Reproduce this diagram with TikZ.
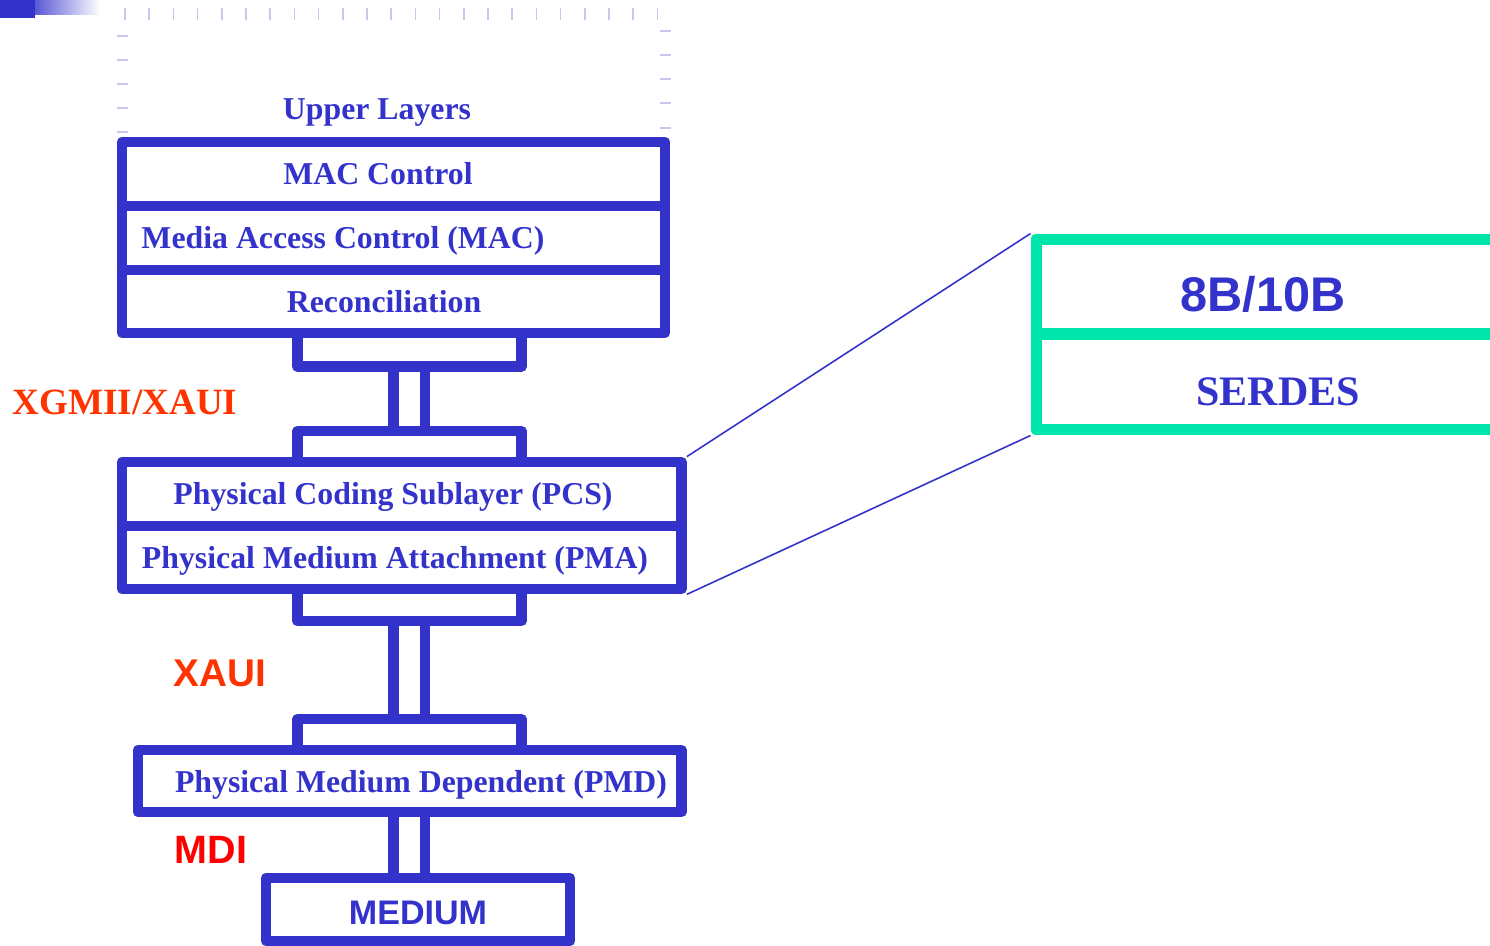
\documentclass[tikz,border=0pt]{standalone}
\usepackage{xcolor}
\usepackage{fontspec}
\setmainfont{Liberation Serif}
\setsansfont{Liberation Sans}
\usepackage{tikz}
\usetikzlibrary{positioning}

\definecolor{layerblue}{RGB}{51,51,204}
\definecolor{layergreen}{RGB}{0,229,170}
\definecolor{ifred}{RGB}{255,51,0}
\definecolor{mdired}{RGB}{255,0,0}
\definecolor{ticklav}{RGB}{200,200,236}

\begin{document}
\begin{tikzpicture}[
	x=0.02cm, y=-0.02cm,
	line join=round,
	font=\bfseries
]
\tikzset{
    layer/.style = {rectangle, draw=layerblue, line width=0.215cm, inner sep=0pt, minimum width=#1},
    layer/.default = 10.86cm,
    greenlayer/.style = {rectangle, draw=layergreen, line width=0.22cm, inner sep=0pt, minimum width=9.68cm},
    layertext/.style = {anchor=base, inner sep=0pt, text=layerblue, font=\bfseries\fontsize{18.1}{20}\selectfont},
    iftext/.style = {anchor=base, inner sep=0pt, text=ifred},
    tickline/.style = {draw=ticklav, line width=0.85pt},
    zoomline/.style = {draw=layerblue, line width=0.9pt}
}
\clip (0,0) rectangle (1490,946);

% title bar and dashed frame of the upper layers
\shade[left color=layerblue, right color=white] (20,0) rectangle (100,15);
\fill[layerblue] (0,0) rectangle (35,18);
\foreach \i in {0,...,22}
	\draw[tickline] ({125+24.2*\i},8) -- ++(0,12);
\foreach \y in {36,60,84,108,132}
	\draw[tickline] (117,\y) -- ++(11,0);
\foreach \y in {31,55,79,103,128}
	\draw[tickline] (660,\y) -- ++(11,0);
\node[layertext] (upper) at (377,119) {Upper Layers};

% MAC stack
\node[layer, minimum height=1.28cm] (ctrl) at (393.5,174) {};
\node[layer, minimum height=1.28cm] (mac) at (393.5,238) {};
\node[layer, minimum height=1.26cm] (rec) at (393.5,301.5) {};
\node[layertext] (ctrltxt) at (378,184) {MAC Control};
\node[layertext] (mactxt) at (343,248) {Media Access Control (MAC)};
\node[layertext] (rectxt) at (384,312) {Reconciliation};

% XGMII/XAUI
\node[layer=4.48cm, minimum height=0.67cm] (xgtop) at (409.5,349.75) {};
\node[layer=0.63cm, minimum height=1.29cm] (xgbar) at (409.25,398.75) {};
\node[layer=4.48cm, minimum height=0.62cm] (xgbot) at (409.5,446.5) {};
\node[iftext, font=\bfseries\fontsize{21.1}{23}\selectfont] (xgmii) at (125,414) {XGMII/XAUI};

% PCS / PMA
\node[layer=11.19cm, minimum height=1.28cm] (pcs) at (401.75,494) {};
\node[layer=11.19cm, minimum height=1.26cm] (pma) at (401.75,557.5) {};
\node[layertext] (pcstxt) at (393,504) {Physical Coding Sublayer (PCS)};
\node[layertext] (pmatxt) at (395,568) {Physical Medium Attachment (PMA)};

% XAUI
\node[layer=4.48cm, minimum height=0.64cm] (xatop) at (409.5,605) {};
\node[layer=0.63cm, minimum height=1.96cm] (xabar) at (409.25,670) {};
\node[layer=4.48cm, minimum height=0.62cm] (xabot) at (409.5,734.5) {};
\node[iftext, font=\sffamily\bfseries\fontsize{22}{24}\selectfont] (xaui) at (220,686) {XAUI};

% PMD, MDI and medium
\node[layer=10.87cm, minimum height=1.24cm] (pmd) at (409.75,781) {};
\node[layertext] (pmdtxt) at (421,792) {Physical Medium Dependent (PMD)};
\node[layer=0.63cm, minimum height=1.32cm] (mdibar) at (409.25,845) {};
\node[iftext, text=mdired, font=\sffamily\bfseries\fontsize{22.5}{25}\selectfont] (mdi) at (211,863) {MDI};
\node[layer=6.08cm, minimum height=1.26cm] (medium) at (418,909.5) {};
\node[layertext, font=\sffamily\bfseries\fontsize{19.4}{22}\selectfont] (mediumtxt) at (418,924) {MEDIUM};

% PCS/PMA detail
\node[greenlayer, minimum height=1.9cm] (enc) at (1278,286.5) {};
\node[greenlayer, minimum height=1.92cm] (serdes) at (1278,382) {};
\node[layertext, font=\sffamily\bfseries\fontsize{27.7}{30}\selectfont] (enctxt) at (1263,311) {8B/10B};
\node[layertext, font=\bfseries\fontsize{23.9}{26}\selectfont] (serdestxt) at (1278,405) {SERDES};
\draw[zoomline] (pcs.north east) -- (enc.north west);
\draw[zoomline] (pma.south east) -- (serdes.south west);
\end{tikzpicture}
\end{document}
